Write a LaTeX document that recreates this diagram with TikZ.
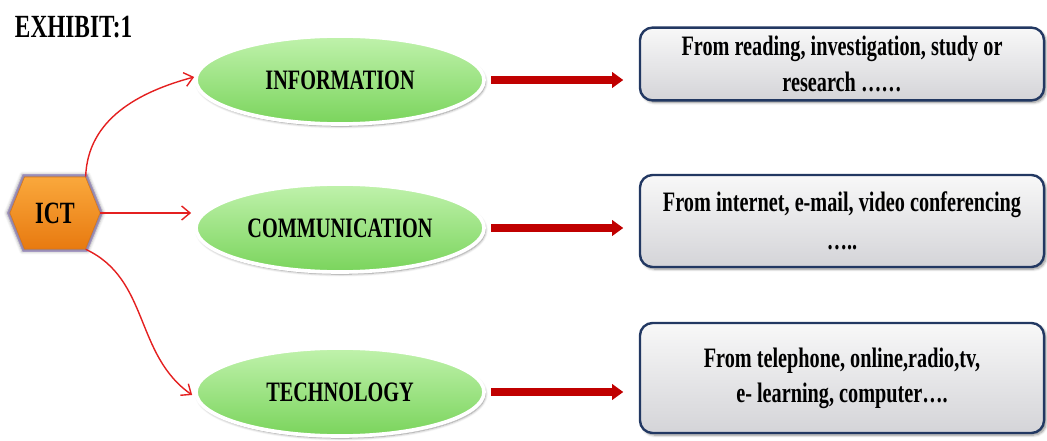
\documentclass[tikz,border=0pt]{standalone}
\usepackage{fontspec}
\setmainfont{Liberation Serif}[FakeStretch=0.72]
\usetikzlibrary{arrows.meta,positioning,shapes.geometric,shapes.symbols,shadows.blur,calc}
\definecolor{hubtop}{RGB}{250,168,60}
\definecolor{hubbot}{RGB}{232,122,16}
\definecolor{hubedge}{RGB}{215,118,28}
\definecolor{hubglow}{RGB}{200,185,235}
\definecolor{leaftop}{RGB}{192,242,172}
\definecolor{leafbot}{RGB}{122,212,92}
\definecolor{notetop}{RGB}{248,248,248}
\definecolor{notebot}{RGB}{212,212,216}
\definecolor{notenavy}{RGB}{34,56,98}
\definecolor{linkred}{RGB}{228,32,32}
\definecolor{barred}{RGB}{192,0,0}
\tikzset{
 hub/.style={signal,signal to=east and west,signal pointer angle=136,draw=hubedge,top color=hubtop,bottom color=hubbot,minimum width=2.25cm,minimum height=1.8cm,inner sep=0pt,font=\bfseries\fontsize{22}{24}\selectfont,preaction={draw=hubglow,line width=4pt},blur shadow={shadow blur steps=6,shadow xshift=0pt,shadow yshift=0pt,shadow scale=1.08,shadow opacity=30}},
 topic/.style={ellipse,draw=white,line width=2.6pt,top color=leaftop,bottom color=leafbot,minimum width=7.2cm,minimum height=2.2cm,inner sep=0pt,font=\bfseries\fontsize{20}{24}\selectfont,blur shadow={shadow blur steps=6,shadow xshift=1pt,shadow yshift=-1.5pt,shadow opacity=45}},
 note/.style={rectangle,rounded corners=9pt,draw=notenavy,line width=1.7pt,top color=notetop,bottom color=notebot,minimum width=10.1cm,align=center,font=\bfseries\fontsize{20}{25}\selectfont,blur shadow={shadow blur steps=6,shadow xshift=1.5pt,shadow yshift=-1.5pt,shadow opacity=45}},
 link/.style={-{Straight Barb[length=6pt,width=10pt]},draw=linkred,line width=1pt},
 bigarrow/.style={-{Triangle[length=8pt,width=11pt]},draw=barred,line width=5.2pt,shorten <=4pt,shorten >=11pt}}

\begin{document}
\begin{tikzpicture}[x=0.025cm,y=0.025cm]
\useasboundingbox (0,0) rectangle (1047,441);
\node[anchor=west,font=\bfseries\fontsize{23}{24}\selectfont] (title) at (10,414) {EXHIBIT:1};
\node[hub] (ict) at (55,228) {ICT};
\node[topic] (info) at (340,361) {INFORMATION};
\node[topic] (comm) at (340,213) {COMMUNICATION};
\node[topic] (tech) at (340,49) {TECHNOLOGY};
\node[note,minimum height=1.82cm] (src1) at (842,377) {From reading, investigation, study or\\research ……};
\node[note,minimum height=2.3cm] (src2) at (842,220) {From internet, e-mail, video conferencing\\[2pt]…..};
\node[note,minimum height=2.75cm] (src3) at (842,63) {From telephone, online,radio,tv,\\e- learning, computer….};
\draw[link] (ict.north east) to[out=88,in=195] ($(info.west)+(0,3)$);
\draw[link] (ict.east) to[out=0,in=180] ($(comm.west)+(-3,15)$);
\draw[link] (ict.south east) to[out=-25,in=145] ($(tech.west)+(-2,-3)$);
\draw[bigarrow] (info.east) -- (info.east -| src1.west); \draw[bigarrow] (comm.east) -- (comm.east -| src2.west);
\draw[bigarrow] (tech.east) -- (tech.east -| src3.west);
\end{tikzpicture}
\end{document}
